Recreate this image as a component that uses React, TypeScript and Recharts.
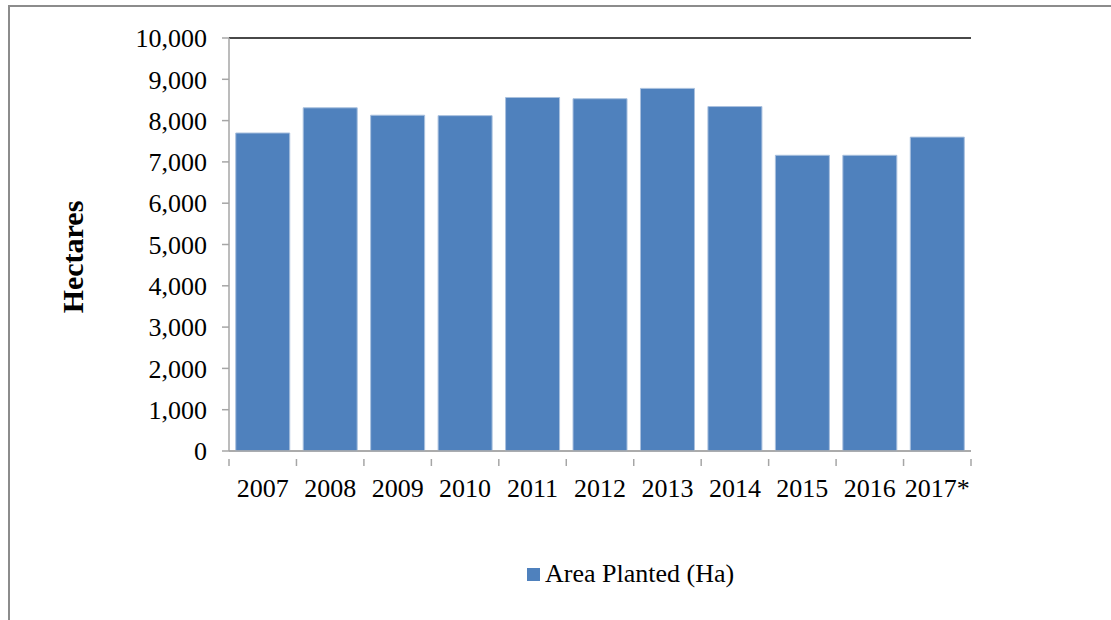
import {
  BarChart,
  Bar,
  XAxis,
  YAxis,
  CartesianGrid,
  ReferenceLine,
  Legend,
} from "recharts";

const years = ["2007", "2008", "2009", "2010", "2011", "2012", "2013", "2014", "2015", "2016", "2017*"];
const areaPlanted = [7700, 8310, 8130, 8120, 8560, 8530, 8780, 8340, 7160, 7160, 7600];
const yTicks = [0, 1000, 2000, 3000, 4000, 5000, 6000, 7000, 8000, 9000, 10000];
const seriesName = "Area Planted (Ha)";
const yLabel = "Hectares";

const chartData = years.map((year, i) => ({
  year,
  area: areaPlanted[i],
}));

const FONT = '"Liberation Serif", "Times New Roman", serif';
const BLUE = "#4f81bd";
const AXIS_GRAY = "#a6a6a6";

function YearTick(props: any) {
  const { x, y, payload, index, width, visibleTicksCount } = props;
  const band = width / (visibleTicksCount || years.length);
  return (
    <g>
      {index === 0 && (
        <line x1={x - band / 2} x2={x - band / 2} y1={y} y2={y + 7} stroke={AXIS_GRAY} strokeWidth={1.5} />
      )}
      <line x1={x + band / 2} x2={x + band / 2} y1={y} y2={y + 7} stroke={AXIS_GRAY} strokeWidth={1.5} />
      <text x={x} y={y + 38} textAnchor="middle" fontSize={26} fontFamily={FONT} fill="#000">
        {payload.value}
      </text>
    </g>
  );
}

function LegendBox() {
  return (
    <div style={{ position: "relative", width: 1111, height: 50 }}>
      <div
        style={{
          position: "absolute",
          left: 527,
          top: 19,
          width: 13,
          height: 13,
          background: BLUE,
        }}
      />
      <div
        style={{
          position: "absolute",
          left: 545,
          top: 8,
          fontFamily: FONT,
          fontSize: 26,
          lineHeight: "34px",
          color: "#000",
          whiteSpace: "nowrap",
        }}
      >
        {seriesName}
      </div>
    </div>
  );
}

export default function App() {
  return (
    <div
      style={{
        position: "absolute",
        left: 0,
        top: 0,
        width: 1111,
        height: 620,
        background: "#fff",
        overflow: "hidden",
      }}
    >
      {/* outer frame, only left and top edges show in the crop */}
      <div
        style={{
          position: "absolute",
          left: 8,
          top: 5,
          width: 1200,
          height: 700,
          borderLeft: "2px solid #8c8c8c",
          borderTop: "2px solid #8c8c8c",
        }}
      />

      <div style={{ position: "absolute", left: 0, top: 0 }}>
        <BarChart
          width={1111}
          height={620}
          data={chartData}
          margin={{ top: 38, right: 140, left: 0, bottom: 21 }}
          barCategoryGap="10%"
        >
          <CartesianGrid horizontal vertical={false} stroke={AXIS_GRAY} strokeWidth={1.5} />
          <XAxis
            dataKey="year"
            height={98}
            axisLine={{ stroke: AXIS_GRAY, strokeWidth: 1.5 }}
            tickLine={false}
            tick={<YearTick />}
            interval={0}
          />
          <YAxis
            yAxisId="left"
            width={229}
            domain={[0, 10000]}
            ticks={yTicks}
            interval={0}
            tickSize={7}
            tickMargin={15}
            axisLine={{ stroke: AXIS_GRAY, strokeWidth: 1.5 }}
            tickLine={{ stroke: AXIS_GRAY, strokeWidth: 1.5 }}
            tick={{ fontSize: 26, fontFamily: FONT, fill: "#000" }}
            tickFormatter={(v: number) => v.toLocaleString("en-US")}
          />
          <YAxis
            yAxisId="right"
            orientation="right"
            width={0}
            domain={[0, 10000]}
            tick={false}
            tickLine={false}
            axisLine={{ stroke: "#222", strokeWidth: 1.5 }}
          />
          <ReferenceLine yAxisId="left" y={10000} stroke="#222" strokeWidth={1.5} />
          <Legend
            verticalAlign="bottom"
            height={50}
            wrapperStyle={{ left: 0, width: 1111 }}
            content={() => <LegendBox />}
          />
          <Bar
            yAxisId="left"
            dataKey="area"
            name={seriesName}
            fill={BLUE}
            stroke="#a9c0de"
            strokeWidth={1}
            isAnimationActive={false}
          />
        </BarChart>
      </div>

      <div
        style={{
          position: "absolute",
          left: 73,
          top: 257,
          transform: "translate(-50%, -50%) rotate(-90deg)",
          fontFamily: FONT,
          fontSize: 30,
          fontWeight: "bold",
          color: "#000",
          whiteSpace: "nowrap",
        }}
      >
        {yLabel}
      </div>
    </div>
  );
}
